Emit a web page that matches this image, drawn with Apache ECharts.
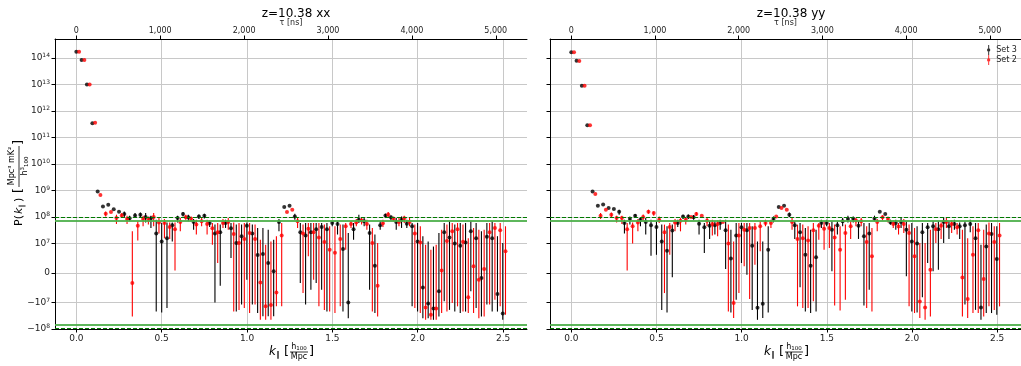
<!DOCTYPE html>
<html>
<head>
<meta charset="utf-8">
<script src="https://cdn.jsdelivr.net/npm/echarts@6/dist/echarts.min.js"></script>
<style>
  html, body { margin: 0; padding: 0; background: #fff; }
  #chart { width: 1021px; height: 366px; }
</style>
</head>
<body>
<div id="chart"></div>
<script>
// k_parallel bins [h/Mpc]
const kPar = [0, 0.031, 0.062, 0.094, 0.125, 0.156, 0.187, 0.219, 0.250, 0.281,
  0.312, 0.344, 0.375, 0.406, 0.437, 0.468, 0.500, 0.531, 0.562, 0.593,
  0.625, 0.656, 0.687, 0.718, 0.750, 0.781, 0.812, 0.843, 0.874, 0.906,
  0.937, 0.968, 0.999, 1.031, 1.062, 1.093, 1.124, 1.156, 1.187, 1.218,
  1.249, 1.280, 1.312, 1.343, 1.374, 1.405, 1.437, 1.468, 1.499, 1.530,
  1.562, 1.593, 1.624, 1.655, 1.686, 1.718, 1.749, 1.780, 1.811, 1.843,
  1.874, 1.905, 1.936, 1.967, 1.999, 2.030, 2.061, 2.092, 2.124, 2.155,
  2.186, 2.217, 2.249, 2.280, 2.311, 2.342, 2.373, 2.405, 2.436, 2.467, 2.498];

// P(k) in units of 1e7 mK^2 Mpc^3 / h^3 ; lo/hi = error bar ends (null = no bar drawn)
const xxSet3Val = [1.74e7, 8.5e6, 1.0e6, 3.5e4, 93, 25, 29, 19.6, 16, 13,
  9.0, 11.6, 12.3, 10.1, 9.0, 2.4, 1.2, 1.6, 4.9, 9.2,
  13, 9.8, 6.5, 10.6, 11.3, 6.0, 2.4, 2.7, 6.0, 3.8,
  1.05, 1.9, 4.7, 2.4, 0.61, 0.65, 0.34, 0.06, 6.5, 24,
  27, 10.6, 2.7, 2.0, 2.65, 3.5, 4.2, 3.5, 6.0, 5.5,
  0.82, -1.0, 3.5, 8.0, 6.9, 2.5, 0.25, 4.9, 11.6, 9.8,
  6.5, 8.0, 5.6, 4.5, 1.2, -0.49, -1.1, -1.7, -0.62, 2.65,
  1.7, 1.0, 0.93, 1.1, 2.9, 1.6, -0.17, 1.8, 1.6, -0.71, -2.58];
const xxSet3Lo = [null, null, null, null, null, null, null, null, null, 10.1,
  6.9, 9.5, 10.1, 6.3, 3.9, -2.2, -2.4, -1.6, 1.2, 6.3,
  10.6, 6.9, 3.3, 8.5, 8.8, 4.2, -1.0, -0.43, 3.9, 0.51,
  -2.2, -1.2, -0.23, -1.2, -2.5, -3.3, -3.3, -3.3, 2.9, null,
  null, 8.0, -0.34, -1.2, -0.57, -0.34, -0.57, -2.2, 4.5, 2.2,
  -2.2, -3.9, 1.4, 6.0, 4.5, -0.57, -2.5, 3.3, 9.2, 7.5,
  3.3, 3.9, 3.9, -1.4, -2.2, -3.9, -3.9, -4.5, -3.35, -0.96,
  -1.9, -2.2, -2.5, -2.2, -0.62, -1.6, -3.35, -1.2, -2.2, -2.2, -4.5];
const xxSet3Hi = [null, null, null, null, null, null, null, null, null, 16.3,
  11.3, 14.2, 14.8, 14.2, 11.3, 8.0, 6.0, 6.3, 6.3, 11.3,
  15.5, 12.3, 8.5, 12.6, 13.4, 7.5, 5.2, 5.2, 8.0, 6.0,
  5.2, 5.2, 6.3, 5.2, 3.9, 3.9, 3.3, 1.4, 8.5, null,
  null, 13.4, 6.0, 6.0, 6.0, 6.0, 6.0, 6.0, 6.9, 6.9,
  5.2, 2.5, 6.0, 12.3, 9.2, 5.2, 2.2, 6.9, 13.4, 11.6,
  9.2, 10.6, 8.0, 6.0, 6.0, 1.9, 1.2, 0.9, 2.5, 6.0,
  6.9, 5.2, 6.0, 6.0, 6.9, 6.0, 2.9, 6.0, 6.9, 1.9, 1.05];

const xxSet2Val = [1.74e7, 8.5e6, 1.0e6, 3.6e4, 68, 13.4, 15.5, 9.2, 11.6, 8.5,
  -0.34, 4.7, 8.5, 8.0, 10.0, 6.3, 6.0, 4.2, 3.5, 6.5,
  9.8, 8.7, 5.2, 6.9, 5.5, 3.8, 2.7, 6.0, 6.5, 2.3,
  1.05, 1.5, 2.5, 1.5, -0.32, -1.4, -1.25, -0.66, 2.0, 15.5,
  19, 6.9, 2.4, 3.6, 2.7, 1.7, 1.15, 0.79, 0.69, 1.5,
  4.5, 5.5, 6.3, 7.5, 5.5, 1.05, -0.43, 5.8, 12.6, 8.5,
  6.5, 9.0, 6.5, 2.4, 1.1, -1.53, -2.9, -1.7, 0.09, 1.25,
  2.9, 3.5, 1.18, -0.82, 0.23, -0.23, 0.14, 2.7, 3.9, 3.2, 0.74];
const xxSet2Lo = [null, null, null, null, null, 10.6, null, 5.5, 9.5, 5.5,
  -3.35, 1.3, 4.5, 5.2, 4.5, 2.4, 1.6, 1.5, 0.09, 2.9,
  8.0, 6.9, 2.2, 4.5, 2.2, 0.96, 0.34, 3.9, 3.3, -2.2,
  -1.9, -1.6, -2.5, -1.2, -4.5, -4.5, -4.5, -1.4, -1.4, null,
  null, 3.9, -0.68, 0.57, -0.23, -1.4, -1.9, -2.2, -2.5, -1.4,
  0.79, 3.9, 4.5, 5.2, 3.3, -2.2, -3.35, 4.2, 10.1, 6.9,
  4.5, 6.0, 4.5, -1.6, -2.5, -4.5, -4.5, -4.5, -2.5, -2.2,
  -1.05, -1.4, -2.2, -2.5, -2.5, -3.9, -3.35, -1.2, -0.91, -1.4, -2.9];
const xxSet2Hi = [null, null, null, null, null, 16.3, null, 12.3, 14.2, 11.3,
  2.9, 6.9, 11.3, 10.6, 14.2, 9.2, 8.5, 6.3, 6.3, 9.2,
  12.3, 10.6, 8.0, 9.2, 8.0, 6.0, 6.0, 8.5, 9.2, 6.3,
  6.0, 6.0, 6.0, 5.2, 1.4, 0.96, 1.2, 1.9, 6.0, null,
  null, 9.2, 5.2, 6.0, 6.0, 6.0, 5.2, 4.5, 4.5, 5.2,
  6.0, 6.9, 8.5, 9.4, 8.0, 3.9, 1.05, 8.0, 15.5, 10.6,
  9.2, 11.3, 9.2, 5.2, 4.5, 0.96, 0.79, 0.96, 3.3, 5.2,
  6.0, 6.0, 5.2, 1.6, 3.9, 3.3, 3.3, 6.0, 6.0, 6.0, 4.5];

const yySet3Val = [1.64e7, 7.9e6, 9.1e5, 2.9e4, 93, 27, 30, 22, 20, 16,
  6.0, 8.5, 11.3, 8.0, 6.5, 4.9, 4.2, 1.2, 0.76, 3.1,
  6.0, 10.6, 10.6, 9.8, 5.6, 4.1, 4.7, 4.9, 6.0, 3.2,
  0.49, 2.0, 4.1, 3.2, 0.93, -1.58, -1.11, 0.79, 8.5, 24,
  27, 12.3, 4.9, 2.7, 0.62, 0.25, 0.54, 6.0, 6.0, 3.3,
  4.9, 6.9, 8.5, 8.7, 4.7, 1.9, 2.4, 8.7, 16, 13,
  6.3, 6.0, 6.5, 3.3, 1.2, 1.0, 2.7, 4.1, 4.5, 3.5,
  6.5, 4.5, 5.5, 4.5, 4.9, 5.5, 1.6, -1.53, 0.9, 2.3, 0.48];
const yySet3Lo = [null, null, null, null, null, null, null, null, null, 12.3,
  2.4, 5.2, 9.2, 4.5, 2.2, 0.59, 0.62, -1.9, -2.4, -0.14,
  4.2, 8.5, 8.5, 8.0, 2.2, 0.68, 1.5, 2.2, 3.3, 0.14,
  -2.4, -0.91, 0.34, -0.06, -1.9, -4.5, -3.87, -2.4, 6.3, null,
  null, 10.0, 1.5, -0.48, -2.2, -2.5, -2.2, 3.9, 4.5, 0.06,
  2.2, 4.5, 6.3, 6.3, 1.5, -1.3, -0.57, 6.9, null, null,
  5.2, 3.3, 3.9, -0.11, -2.2, -2.4, -0.82, 0.34, 0.06, 0.11,
  1.05, 1.5, 3.3, 1.5, -1.2, 2.7, -1.9, -4.5, -2.5, -2.5, -2.9];
const yySet3Hi = [null, null, null, null, null, null, null, null, null, 19,
  8.0, 10.6, 13.0, 9.5, 9.2, 8.0, 6.9, 5.2, 4.5, 5.2,
  8.0, 12.3, 12.6, 12.0, 8.0, 6.0, 6.9, 6.9, 8.0, 8.0,
  3.3, 6.0, 6.0, 6.0, 4.5, 1.2, 1.2, 4.5, 10.6, null,
  null, 15, 6.9, 6.0, 3.9, 3.3, 3.3, 8.0, 8.0, 6.9,
  6.9, 9.2, 11.3, 10.6, 6.9, 6.0, 6.0, 11.3, null, null,
  8.0, 8.0, 9.2, 6.9, 6.0, 4.5, 6.0, 6.0, 6.9, 6.9,
  9.2, 6.9, 8.0, 6.3, 6.9, 8.0, 6.0, 0.96, 5.2, 6.0, 4.5];

const yySet2Val = [1.64e7, 7.7e6, 9.1e5, 2.9e4, 74, 11.3, 19, 12.3, 9.2, 9.2,
  3.5, 4.5, 6.3, 10.1, 16, 14.2, 8.0, 2.65, 4.2, 6.3,
  7.3, 8.0, 10.1, 13, 11.3, 7.3, 5.5, 5.5, 6.5, 1.0,
  -1.05, 2.0, 3.3, 3.9, 3.9, 4.5, 6.0, 6.0, 10.6, 22,
  19, 6.5, 1.5, 1.6, 1.3, 3.2, 4.7, 3.6, 3.9, 1.7,
  0.79, 2.5, 4.5, 7.5, 6.9, 1.15, 0.57, 6.5, 9.8, 8.5,
  5.5, 4.4, 5.5, 2.5, 0.57, -0.97, -1.53, 0.11, 3.5, 4.7,
  6.5, 5.5, 4.1, -0.15, -0.88, 0.62, 3.2, -0.2, 2.4, 1.15, 2.0];
const yySet2Lo = [null, null, null, null, null, 8.5, null, 9.2, 6.3, 5.5,
  0.09, 1.0, 2.9, 6.9, 13.4, 11.3, 6.0, -0.68, 0.62, 2.9,
  2.9, 5.2, null, 11.3, null, 4.5, 2.0, 1.9, null, -2.2,
  -3.87, -0.68, 0.23, -0.88, 0.28, 0.74, 4.5, 3.9, null, null,
  null, 3.3, -1.4, -1.6, -1.6, -0.96, 1.4, 0.79, 0.85, -1.3,
  -2.0, -0.91, 1.5, 4.5, 4.5, -1.6, -2.2, 2.9, 7.5, 6.3,
  3.9, 2.2, 2.5, -1.4, -2.5, -3.87, -4.5, -3.35, 1.05, 1.5,
  3.9, 2.5, 2.2, -3.35, -3.87, -2.5, -2.5, -3.35, -1.4, -1.9, -1.4];
const yySet2Hi = [null, null, null, null, null, 14.2, null, 15, 11.3, 11.3,
  6.0, 6.3, 8.5, 12.6, 19, 16.4, 10.6, 5.2, 6.0, 8.5,
  9.2, 9.8, null, 15.5, null, 9.2, 8.0, 7.5, null, 5.2,
  1.2, 6.0, 6.0, 6.0, 6.0, 6.9, 8.0, 8.0, null, null,
  null, 9.2, 5.2, 5.2, 4.5, 6.0, 6.0, 6.9, 6.0, 5.2,
  4.5, 5.2, 6.9, 9.2, 9.2, 4.5, 3.9, 8.5, 11.6, 10.6,
  7.5, 6.0, 8.5, 5.2, 3.9, 1.05, 1.05, 3.3, 6.0, 6.3,
  9.2, 7.5, 6.0, 3.3, 1.6, 4.5, 6.0, 3.3, 6.3, 4.5, 6.0];

// noise levels (same units)
const noiseSolid = [7, -7];
const noiseDashed = [9.5, -9.5];

// tick labels
const kTicks = [0, 0.5, 1.0, 1.5, 2.0, 2.5];
const tauTicks = [0, 1000, 2000, 3000, 4000, 5000];
const yTicks = [-10, -1, 0, 1, 10, 1e2, 1e3, 1e4, 1e5, 1e6, 1e7];
const yTickLabels = ['\u221210{s|8}', '\u221210{s|7}', '0', '10{s|7}', '10{s|8}', '10{s|9}',
  '10{s|10}', '10{s|11}', '10{s|12}', '10{s|13}', '10{s|14}'];

// symlog like matplotlib, linthresh = 1e7 (= 1 in data units), linscale = 1
const LIN = 1 / (1 - 1 / 10);
const symlog = v => {
  const a = Math.abs(v);
  return a <= 1 ? v * LIN : Math.sign(v) * (LIN + Math.log10(a));
};

const K_MIN = -0.125, K_MAX = 2.64;
const TAU_PER_K = 2035;
const Y_MIN = symlog(-10), Y_MAX = 8.83;
const RED_SHIFT = 0.016;
const FONT = 'DejaVu Sans';

const panels = [
  { title: 'z=10.38 xx', left: 55, set3: [xxSet3Val, xxSet3Lo, xxSet3Hi], set2: [xxSet2Val, xxSet2Lo, xxSet2Hi] },
  { title: 'z=10.38 yy', left: 550, set3: [yySet3Val, yySet3Lo, yySet3Hi], set2: [yySet2Val, yySet2Lo, yySet2Hi] }
];

const gridLine = { show: true, lineStyle: { color: '#c8c8c8', width: 1 } };
const spine = { show: true, onZero: false, lineStyle: { color: '#000', width: 1 } };

const errSeries = (g, d, dx, color) => ({
  type: 'custom', xAxisIndex: 2 * g, yAxisIndex: g, silent: true, z: 3,
  data: kPar.map((k, i) => [k + dx, d[1][i], d[2][i]])
    .filter(r => r[1] != null)
    .map(r => [r[0], symlog(r[1]), symlog(r[2])]),
  encode: { x: 0, y: [1, 2] },
  renderItem: (params, api) => {
    const a = api.coord([api.value(0), api.value(1)]);
    const b = api.coord([api.value(0), api.value(2)]);
    return { type: 'line', shape: { x1: a[0], y1: a[1], x2: b[0], y2: b[1] }, style: { stroke: color, lineWidth: 1.1 } };
  }
});

const pointSeries = (g, name, d, dx, color) => ({
  type: 'scatter', name, xAxisIndex: 2 * g, yAxisIndex: g, silent: true, z: 4,
  symbol: 'circle', symbolSize: 4, itemStyle: { color },
  data: kPar.map((k, i) => [k + dx, symlog(d[0][i])])
});

const noiseSeries = g => ({
  type: 'scatter', xAxisIndex: 2 * g, yAxisIndex: g, data: [], silent: true, z: 2,
  markLine: {
    silent: true, symbol: 'none', label: { show: false }, animation: false,
    data: [
      ...noiseSolid.map(v => ({ yAxis: symlog(v), lineStyle: { color: '#4daf4a', width: 2, type: 'solid', opacity: 0.9 } })),
      ...noiseDashed.map(v => ({ yAxis: symlog(v), lineStyle: { color: '#007a00', width: 1.2, type: [4, 2] } }))
    ]
  }
});

const grids = [], xAxes = [], yAxes = [], series = [], titles = [];
panels.forEach((p, g) => {
  grids.push({ left: p.left, top: 39, width: 472, height: 290 });
  xAxes.push({
    type: 'value', gridIndex: g, position: 'bottom', min: K_MIN, max: K_MAX,
    axisLine: spine,
    axisTick: { show: true, customValues: kTicks, length: 3.5, lineStyle: { color: '#000' } },
    axisLabel: { customValues: kTicks, formatter: v => v.toFixed(1), fontSize: 9, color: '#222', fontFamily: FONT, margin: 5 },
    splitLine: gridLine
  });
  xAxes.push({
    type: 'value', gridIndex: g, position: 'top', min: K_MIN * TAU_PER_K, max: K_MAX * TAU_PER_K,
    axisLine: spine,
    axisTick: { show: true, customValues: tauTicks, length: 3.5, lineStyle: { color: '#000' } },
    axisLabel: { customValues: tauTicks, fontSize: 8, color: '#222', fontFamily: FONT, margin: 4 },
    splitLine: { show: false },
    name: '\u03c4 [ns]', nameLocation: 'middle', nameGap: 12, nameMoveOverlap: false,
    nameTextStyle: { fontSize: 8, color: '#222', fontFamily: FONT }
  });
  yAxes.push({
    type: 'value', gridIndex: g, min: Y_MIN, max: Y_MAX,
    axisLine: spine,
    axisTick: { show: true, customValues: yTicks.map(symlog), length: 3.5, lineStyle: { color: '#000' } },
    axisLabel: {
      show: g === 0, customValues: yTicks.map(symlog), margin: 5,
      fontSize: 9, color: '#222', fontFamily: FONT,
      formatter: v => {
        const i = yTicks.findIndex(t => Math.abs(symlog(t) - v) < 1e-6);
        return i < 0 ? '' : yTickLabels[i];
      },
      rich: { s: { fontSize: 6, fontFamily: FONT, color: '#222', verticalAlign: 'top', padding: [0, 0, 5, 0] } }
    },
    splitLine: gridLine
  });
  titles.push({
    text: p.title, left: p.left + 236, top: 3, textAlign: 'center',
    textStyle: { fontSize: 12, fontWeight: 'normal', color: '#000', fontFamily: FONT }
  });
  series.push(noiseSeries(g));
  series.push(errSeries(g, p.set3, 0, '#000'));
  series.push(pointSeries(g, 'Set 3', p.set3, 0, '#000'));
  series.push(errSeries(g, p.set2, RED_SHIFT, '#ff0000'));
  series.push(pointSeries(g, 'Set 2', p.set2, RED_SHIFT, '#ff0000'));
});

// x-axis label  k_par [h100 / Mpc]
const xLabel = cx => ({
  type: 'group', x: cx, y: 352,
  children: [
    { type: 'text', x: -22, y: 0, style: { text: 'k', font: 'italic 12px ' + FONT, fill: '#000', verticalAlign: 'middle' } },
    { type: 'text', x: -15, y: 3, style: { text: '\u2225', font: '8px ' + FONT, fill: '#000', verticalAlign: 'middle' } },
    { type: 'text', x: -7, y: 0, style: { text: '[', font: '13px ' + FONT, fill: '#000', verticalAlign: 'middle' } },
    { type: 'text', x: 8, y: -5, style: { text: 'h{s|100}', font: '8px ' + FONT, fill: '#000', align: 'center', verticalAlign: 'middle', rich: { s: { fontSize: 5.5, fontFamily: FONT, padding: [4, 0, 0, 0] } } } },
    { type: 'line', shape: { x1: -1, y1: 0, x2: 17, y2: 0 }, style: { stroke: '#000', lineWidth: 0.8 } },
    { type: 'text', x: 8, y: 5, style: { text: 'Mpc', font: '8px ' + FONT, fill: '#000', align: 'center', verticalAlign: 'middle' } },
    { type: 'text', x: 18, y: 0, style: { text: ']', font: '13px ' + FONT, fill: '#000', verticalAlign: 'middle' } }
  ]
});

// y-axis label  P(k_par) [Mpc^3 mK^2 / h^3_100]
const yLabel = {
  type: 'group', x: 19, y: 184, rotation: Math.PI / 2,
  children: [
    { type: 'text', x: -42, y: 0, style: { text: 'P(', font: '11px ' + FONT, fill: '#000', verticalAlign: 'middle' } },
    { type: 'text', x: -30, y: 0, style: { text: 'k', font: 'italic 11px ' + FONT, fill: '#000', verticalAlign: 'middle' } },
    { type: 'text', x: -24, y: 3, style: { text: '\u2225', font: '7px ' + FONT, fill: '#000', verticalAlign: 'middle' } },
    { type: 'text', x: -18, y: 0, style: { text: ')', font: '11px ' + FONT, fill: '#000', verticalAlign: 'middle' } },
    { type: 'text', x: -9, y: 0, style: { text: '[', font: '13px ' + FONT, fill: '#000', verticalAlign: 'middle' } },
    { type: 'text', x: 18, y: -7, style: { text: 'Mpc\u00b3 mK\u00b2', font: '8px ' + FONT, fill: '#000', align: 'center', verticalAlign: 'middle' } },
    { type: 'line', shape: { x1: -3, y1: 0, x2: 38, y2: 0 }, style: { stroke: '#000', lineWidth: 0.8 } },
    { type: 'text', x: 18, y: 6, style: { text: 'h{s|3}{b|100}', font: '8px ' + FONT, fill: '#000', align: 'center', verticalAlign: 'middle', rich: { s: { fontSize: 5.5, fontFamily: FONT, padding: [0, 0, 4, 0] }, b: { fontSize: 5.5, fontFamily: FONT, padding: [4, 0, 0, 0] } } } },
    { type: 'text', x: 39, y: 0, style: { text: ']', font: '13px ' + FONT, fill: '#000', verticalAlign: 'middle' } }
  ]
};

const ERRBAR_ICON = 'path://M4.4,0H5.6V12H4.4Z M5,4A2,2 0 1 1 4.99,4Z';

const chart = echarts.init(document.getElementById('chart'), null, { renderer: 'canvas' });
chart.setOption({
  animation: false,
  backgroundColor: '#fff',
  title: titles,
  grid: grids,
  xAxis: xAxes,
  yAxis: yAxes,
  legend: {
    data: ['Set 3', 'Set 2'], orient: 'vertical', left: 982, top: 40,
    itemWidth: 5, itemHeight: 10, itemGap: 0, icon: ERRBAR_ICON,
    textStyle: { fontSize: 8, color: '#222', fontFamily: FONT }, selectedMode: false
  },
  graphic: [xLabel(291), xLabel(786), yLabel],
  series
});
</script>
</body>
</html>
